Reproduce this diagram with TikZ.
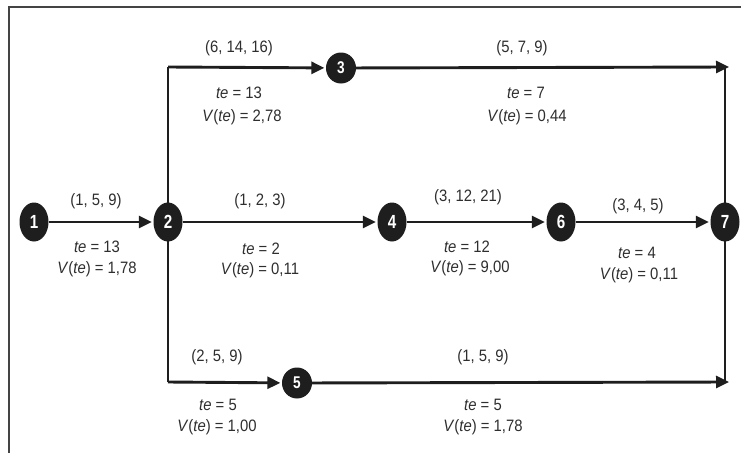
\documentclass[tikz,border=0pt]{standalone}
\usepackage{fontspec}
\setmainfont{Liberation Sans}[FakeStretch=0.9]
\newfontfamily\evfont{Liberation Sans}[FakeStretch=0.8]
\usetikzlibrary{arrows.meta,shapes.geometric}
\definecolor{ink}{HTML}{1E1E1E}
\definecolor{txt}{HTML}{2E2E2E}
\definecolor{framec}{HTML}{444444}
\tikzset{
  ev/.style={ellipse, fill=ink, minimum width=29pt, minimum height=39pt, inner sep=0pt,
             text=white, font=\evfont\fontsize{19}{19}\selectfont\bfseries},
  evs/.style={ellipse, fill=ink, minimum width=30pt, minimum height=31pt, inner sep=0pt,
             text=white, font=\evfont\fontsize{17}{17}\selectfont\bfseries},
  act/.style={draw=ink, line width=2.9pt, -{Triangle[length=13pt,width=12pt]}, shorten >=1.5pt},
  link/.style={draw=ink, line width=1.4pt},
  lbl/.style={text=txt, font=\fontsize{16.5}{16.5}\selectfont, inner sep=0pt},
  framel/.style={draw=framec, line width=1.3pt}
}
\begin{document}
\begin{tikzpicture}[x=1pt,y=-1pt]
\useasboundingbox (0,0) rectangle (741,453);
\fill[white] (0,0) rectangle (741,453);
\draw[framel] (741,7) -- (9,7) -- (9,453);

% coordinates of corners
\coordinate (c23) at (168,67);
\coordinate (c25) at (168,382);
\coordinate (t37) at (729,67);
\coordinate (t57) at (729,382);
\coordinate (r37) at (725,67);
\coordinate (r57) at (725,382);

% thin connectors
\draw[link] (c23) -- (c25);
\draw[link] (r37) -- (r57);

% events
\node[ev] (n1) at (34,222) {1};
\node[ev] (n2) at (168,222) {2};
\node[evs] (n3) at (341,68) {3};
\node[ev] (n4) at (392,222) {4};
\node[evs] (n5) at (297,383) {5};
\node[ev] (n6) at (561,222) {6};
\node[ev] (n7) at (725,222) {7};

% activities
\draw[act] (n1) -- (n2);
\draw[act] (n2) -- (n4);
\draw[act] (n4) -- (n6);
\draw[act] (n6) -- (n7);
\draw[act] (c23) -- (n3);
\draw[act, shorten >=0pt] (n3) -- (t37);
\draw[act] (c25) -- (n5);
\draw[act, shorten >=0pt] (n5) -- (t57);

% labels
\node[lbl] (a23) at (239,48) {(6, 14, 16)};
\node[lbl] (b23) at (239,93) {\textit{te} = 13};
\node[lbl] (v23) at (242,117) {\textit{V}(\textit{te}) = 2,78};

\node[lbl] (a37) at (522,48) {(5, 7, 9)};
\node[lbl] (b37) at (526,93) {\textit{te} = 7};
\node[lbl] (v37) at (527,117) {\textit{V}(\textit{te}) = 0,44};

\node[lbl] (a12) at (96,201) {(1, 5, 9)};
\node[lbl] (b12) at (97,247) {\textit{te} = 13};
\node[lbl] (v12) at (97,269) {\textit{V}(\textit{te}) = 1,78};

\node[lbl] (a24) at (260,201) {(1, 2, 3)};
\node[lbl] (b24) at (261,249) {\textit{te} = 2};
\node[lbl] (v24) at (260,270) {\textit{V}(\textit{te}) = 0,11};

\node[lbl] (a46) at (468,197) {(3, 12, 21)};
\node[lbl] (b46) at (467,247) {\textit{te} = 12};
\node[lbl] (v46) at (470,268) {\textit{V}(\textit{te}) = 9,00};

\node[lbl] (a67) at (638,206) {(3, 4, 5)};
\node[lbl] (b67) at (637,253) {\textit{te} = 4};
\node[lbl] (v67) at (639,275) {\textit{V}(\textit{te}) = 0,11};

\node[lbl] (a25) at (217,357) {(2, 5, 9)};
\node[lbl] (b25) at (218,405) {\textit{te} = 5};
\node[lbl] (v25) at (217,427) {\textit{V}(\textit{te}) = 1,00};

\node[lbl] (a57) at (483,357) {(1, 5, 9)};
\node[lbl] (b57) at (483,405) {\textit{te} = 5};
\node[lbl] (v57) at (483,427) {\textit{V}(\textit{te}) = 1,78};
\end{tikzpicture}
\end{document}
